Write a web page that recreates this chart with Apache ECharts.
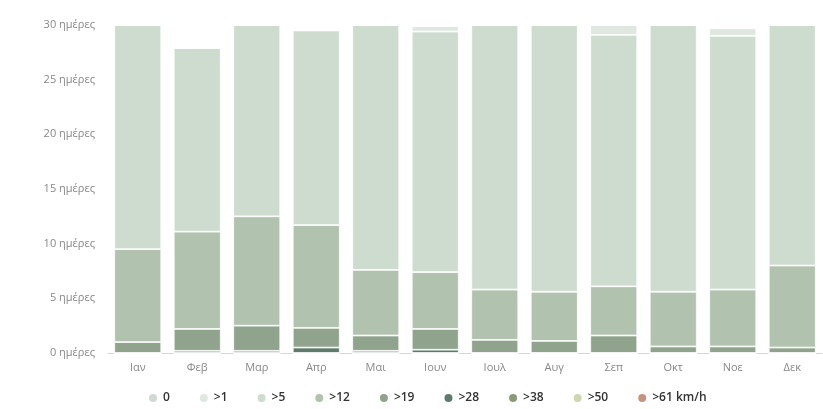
<!DOCTYPE html>
<html><head><meta charset="utf-8">
<script src="https://cdn.jsdelivr.net/npm/echarts@6/dist/echarts.min.js"></script>
<style>html,body{margin:0;padding:0;background:#fff}#c{width:823px;height:409px}</style>
</head><body><div id="c"></div>
<script>
const months = ['Ιαν','Φεβ','Μαρ','Απρ','Μαι','Ιουν','Ιουλ','Αυγ','Σεπ','Οκτ','Νοε','Δεκ'];
const yTicks = [0, 5, 10, 15, 20, 25, 30];
const legendNames = ['0','>1','>5','>12','>19','>28','>38','>50','>61 km/h'];
const days0   = [0,0,0,0,0,0,0,0,0,0,0,0];
const days1   = [0,0,0,0,0,0.5,0,0,0.9,0,0.7,0];
const days5   = [20.5,16.8,17.5,17.8,22.4,22.0,24.2,24.4,23.0,24.4,23.2,22.0];
const days12  = [8.5,8.9,10.0,9.4,6.0,5.2,4.6,4.5,4.5,5.0,5.2,7.5];
const days19  = [1.0,2.0,2.3,1.8,1.4,1.9,1.2,1.1,1.6,0.6,0.6,0.5];
const days28  = [0,0.2,0.2,0.5,0.2,0.3,0,0,0,0,0,0];
const days38  = [0,0,0,0,0,0,0,0,0,0,0,0];
const days50  = [0,0,0,0,0,0,0,0,0,0,0,0];
const days61  = [0,0,0,0,0,0,0,0,0,0,0,0];

const colors = {
  '0':'#d2d8d3', '>1':'#dfe7e0', '>5':'#cedcd0', '>12':'#b1c2ae', '>19':'#90a38d',
  '>28':'#5e7a6d', '>38':'#8c9a78', '>50':'#cdd8b0', '>61 km/h':'#c4957a'
};
const stackOrder = [
  ['>61 km/h', days61], ['>50', days50], ['>38', days38], ['>28', days28],
  ['>19', days19], ['>12', days12], ['>5', days5], ['>1', days1], ['0', days0]
];
const series = stackOrder.map(([name, data]) => ({
  name, type: 'bar', stack: 'w', data, barWidth: 47,
  itemStyle: { color: colors[name], borderColor: '#ffffff', borderWidth: 0.8 },
  emphasis: { disabled: true }
}));

const chart = echarts.init(document.getElementById('c'), null, { renderer: 'canvas' });
chart.setOption({
  animation: false,
  backgroundColor: '#ffffff',
  grid: { left: 108, right: 1, top: 25, bottom: 56 },
  legend: {
    data: legendNames, left: 142, top: 387, icon: 'circle',
    itemWidth: 10, itemHeight: 10, itemGap: 28,
    textStyle: { color: '#333', fontSize: 12, fontFamily: 'Open Sans', fontWeight: 600 }
  },
  xAxis: {
    type: 'category', data: months,
    axisLine: { lineStyle: { color: '#d6d6d6' } },
    axisTick: { show: false },
    axisLabel: { color: '#888', fontSize: 11, fontFamily: 'Open Sans', margin: 9 }
  },
  yAxis: {
    type: 'value', min: yTicks[0], max: yTicks[yTicks.length-1], interval: 5,
    splitLine: { show: false }, axisLine: { show: false }, axisTick: { show: false },
    axisLabel: { color: '#888', fontSize: 11, fontFamily: 'Open Sans', margin: 13,
      formatter: v => v + ' ημέρες' }
  },
  series
});
</script></body></html>
